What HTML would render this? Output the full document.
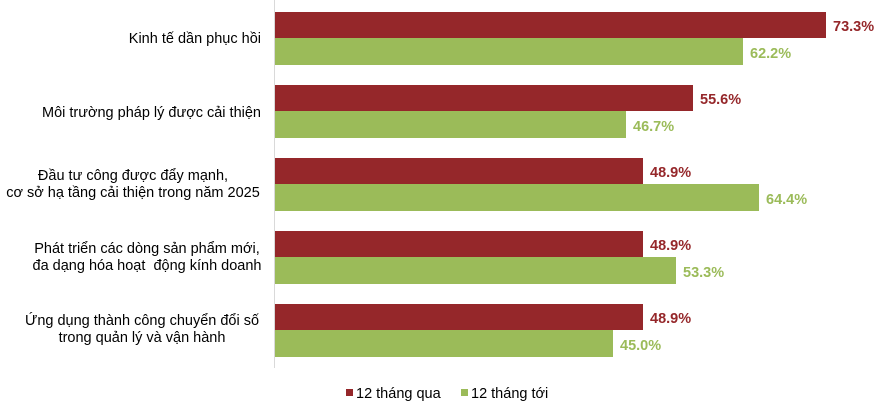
<!DOCTYPE html>
<html><head><meta charset="utf-8"><style>
body{margin:0;background:#fff;width:882px;height:408px;overflow:hidden;font-family:"Liberation Sans",Arial,sans-serif}
</style></head><body>
<svg width="882" height="408" xmlns="http://www.w3.org/2000/svg" font-family="Liberation Sans, Arial, sans-serif">
<line x1="274.5" y1="0" x2="274.5" y2="368" stroke="#d9d9d9" stroke-width="1"/>
<g font-size="14.5" fill="#000" text-anchor="end">
<text x="261" y="43">Kinh tế dần phục hồi</text>
<text x="261" y="117">Môi trường pháp lý được cải thiện</text>
</g>
<g font-size="14.5" fill="#000" text-anchor="middle">
<text x="133" y="180">Đầu tư công được đẩy mạnh,</text>
<text x="133" y="197">cơ sở hạ tầng cải thiện trong năm 2025</text>
<text x="147" y="253">Phát triển các dòng sản phẩm mới,</text>
<text x="147" y="270" xml:space="preserve">đa dạng hóa hoạt  động kính doanh</text>
<text x="142" y="325">Ứng dụng thành công chuyển đổi số</text>
<text x="142" y="342">trong quản lý và vận hành</text>
</g>
<g fill="#95272a">
<rect x="275" y="12" width="551" height="26"/>
<rect x="275" y="85" width="418" height="26"/>
<rect x="275" y="158" width="368" height="26"/>
<rect x="275" y="231" width="368" height="26"/>
<rect x="275" y="304" width="368" height="26"/>
</g>
<g fill="#9bbb59">
<rect x="275" y="38" width="468" height="27"/>
<rect x="275" y="111" width="351" height="27"/>
<rect x="275" y="184" width="484" height="27"/>
<rect x="275" y="257" width="401" height="27"/>
<rect x="275" y="330" width="338" height="27"/>
</g>
<g font-size="14.5" font-weight="bold" fill="#95272a">
<text x="833" y="31">73.3%</text>
<text x="700" y="104">55.6%</text>
<text x="650" y="177">48.9%</text>
<text x="650" y="250">48.9%</text>
<text x="650" y="323">48.9%</text>
</g>
<g font-size="14.5" font-weight="bold" fill="#9bbb59">
<text x="750" y="58">62.2%</text>
<text x="633" y="131">46.7%</text>
<text x="766" y="204">64.4%</text>
<text x="683" y="277">53.3%</text>
<text x="620" y="350">45.0%</text>
</g>
<rect x="346" y="389" width="7" height="7" fill="#95272a"/>
<text x="356" y="398" font-size="14.5">12 tháng qua</text>
<rect x="461" y="389" width="7" height="7" fill="#9bbb59"/>
<text x="471" y="398" font-size="14.5">12 tháng tới</text>
</svg>
</body></html>
